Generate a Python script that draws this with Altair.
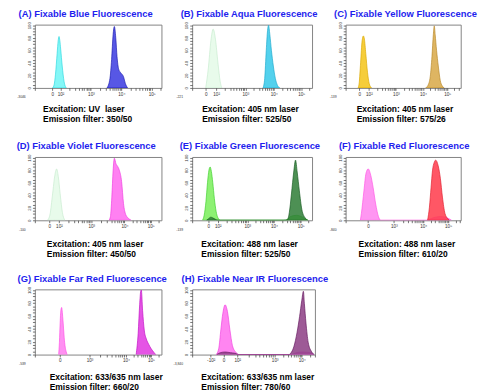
import math
import altair as alt
import pandas as pd

TITLES = ["(A) Fixable Blue Fluorescence", "(B) Fixable Aqua Fluorescence", "(C) Fixable Yellow Fluorescence",
          "(D) Fixable Violet Fluorescence", "(E) Fixable Green Fluorescence", "(F) Fixable Red Fluorescence",
          "(G) Fixable Far Red Fluorescence", "(H) Fixable Near IR Fluorescence"]
EXCITATION = ["Excitation: UV\u00a0 laser", "Excitation: 405 nm laser", "Excitation: 405 nm laser",
              "Excitation: 405 nm laser", "Excitation: 488 nm laser", "Excitation: 488 nm laser",
              "Excitation: 633/635 nm laser", "Excitation: 633/635 nm laser"]
EMISSION = ["Emission filter: 350/50", "Emission filter: 525/50", "Emission filter: 575/26",
            "Emission filter: 450/50", "Emission filter: 525/50", "Emission filter: 610/20",
            "Emission filter: 660/20", "Emission filter: 780/60"]
LOW_LABELS = ["-3046", "-221", "-139", "-100", "-139", "-840", "-539", "-3,840"]

STD_LABELS = ["0", "10\u00b2", "10\u00b3", "10\u2074", "10\u2075"]
F_LABELS = ["0", "10\u00b3", "10\u2074", "10\u2075"]
G_LABELS = ["0", "10\u00b3", "10\u2074", "10\u2075"]
H_LABELS = ["-10\u00b2", "0", "10\u00b2", "10\u00b3", "10\u2074"]

A_TICKS = [137, 203, 443, 683, 923]
B_TICKS = [113, 200, 444, 680, 910]
C_TICKS = [118, 202, 437, 672, 882]
D_TICKS = [115, 190, 446, 708, 915]
E_TICKS = [135, 214, 460, 683, 905]
F_TICKS = [194, 419, 675, 890]
G_TICKS = [197, 432, 720, 917]
H_TICKS = [151, 255, 367, 672, 893]

A_NEG_X = [140, 152, 163, 176, 184, 191, 197, 204, 216, 231, 248]
A_NEG_Y = [0, 5, 22, 55, 75, 82, 76, 62, 35, 10, 0]
A_POS_X = [570, 593, 606, 618, 628, 639, 649, 662, 679, 700, 715, 732]
A_POS_Y = [0, 15, 45, 85, 98, 80, 50, 30, 24, 18, 7, 0]

B_NEG_X = [113, 134, 156, 175, 194, 215, 234, 247]
B_NEG_Y = [0, 30, 75, 94, 78, 40, 10, 0]
B_POS_X = [591, 605, 618, 629, 637, 648, 661, 677, 694, 712, 731]
B_POS_Y = [0, 15, 60, 92, 100, 85, 60, 35, 15, 4, 0]

C_NEG_X = [108, 118, 130, 143, 154, 163, 175, 190, 205, 225]
C_NEG_Y = [0, 8, 40, 75, 83, 78, 55, 25, 7, 0]
C_POS_X = [695, 715, 735, 750, 762, 770, 778, 790, 805, 822, 840, 856]
C_POS_Y = [0, 4, 18, 50, 85, 99, 85, 60, 35, 12, 3, 0]

D_NEG_X = [100, 120, 140, 158, 172, 185, 200, 218, 238]
D_NEG_Y = [0, 10, 42, 72, 82, 70, 42, 12, 0]
D_POS_X = [585, 597, 608, 618, 628, 641, 654, 667, 685, 700, 718, 740, 760]
D_POS_Y = [0, 6, 37, 79, 99, 90, 86, 80, 62, 27, 9, 3, 0]

E_NEG_X = [85, 100, 115, 128, 140, 150, 160, 172, 185, 200, 215, 235, 780, 820, 870, 920, 965]
E_NEG_Y = [0, 8, 30, 60, 80, 85, 78, 60, 35, 14, 4, 0, 0, 6, 8, 5, 0]
E_POS_X = [120, 140, 155, 170, 190, 215, 760, 794, 810, 828, 847, 862, 876, 894, 915, 942, 965]
E_POS_Y = [0, 3, 5, 4, 2, 0, 0, 1, 12, 42, 77, 96, 77, 47, 17, 4, 0]

F_NEG_X = [128, 137, 159, 177, 196, 218, 239, 261, 285, 305, 700, 760, 820, 880, 920]
F_NEG_Y = [0, 11, 47, 75, 82, 72, 52, 26, 6, 0, 0, 4, 6, 4, 0]
F_POS_X = [712, 728, 742, 755, 769, 782, 804, 823, 841, 863, 890, 900]
F_POS_Y = [0, 21, 52, 80, 92, 96, 87, 67, 37, 11, 2, 0]

G_NEG_X = [188, 194, 200, 205, 212, 217, 222, 235, 248, 256]
G_NEG_Y = [0, 19, 50, 68, 73, 65, 53, 19, 4, 0]
G_POS_X = [800, 816, 828, 836, 841, 851, 864, 881, 899, 919, 942, 955]
G_POS_Y = [0, 33, 78, 98, 100, 68, 38, 24, 16, 9, 3, 0]

H_NEG_X = [195, 216, 234, 250, 268, 287, 307, 328, 354, 385, 800, 850, 900, 960, 990]
H_NEG_Y = [0, 9, 39, 64, 77, 67, 39, 14, 4, 0, 0, 3, 4, 3, 0]
H_POS_X = [200, 230, 270, 310, 350, 380, 790, 802, 828, 854, 875, 893, 906, 914, 927, 945, 971, 995]
H_POS_Y = [0, 3, 4, 3, 2, 0, 0, 2, 12, 34, 59, 84, 98, 79, 49, 19, 5, 0]

# (neg fill, neg stroke, pos fill, pos stroke)
COLORS = [
    ("#6ef6f6", "#2fd8e0", "#3a3ae0", "#1c1cb0"),
    ("#e4fae8", "#c8eccf", "#35c9ea", "#1fa9cc"),
    ("#f4c417", "#dba800", "#d8a846", "#b8892a"),
    ("#e4fae8", "#c8eccf", "#ff6af0", "#ee3ee0"),
    ("#79ee5a", "#3fcf2d", "#2e7d36", "#185c22"),
    ("#ff84f0", "#ff55e4", "#ff3a4a", "#e0202f"),
    ("#ff7cf0", "#ff50e6", "#e036e0", "#c010c4"),
    ("#ff70ee", "#f040e0", "#8c3d84", "#641a5e"),
]

# layout styling
WIDTHS = [132, 125, 120, 132, 125, 120, 132, 128]
HEIGHTS = [66, 66, 66, 66, 66, 66, 68, 68]
TITLE_DX = [-17, -12, -12, -19, -13, -7, -18, -11]
CAP_X = [8, 10, 11, 12, 9, 13, 15, 9]
CAP_Y = [18, 18, 18, 20, 20, 20, 19, 19]
FONT = "Liberation Sans"


def minor_ticks(ticks, labels):
    dec = [t for t, l in zip(ticks, labels) if l.startswith("10")]
    out = []
    for a, b in zip(dec[:-1], dec[1:]):
        out += [a + math.log10(k) * (b - a) for k in range(2, 10)]
    if len(dec) >= 2:
        step = dec[-1] - dec[-2]
        out += [dec[-1] + math.log10(k) * step for k in range(2, 10)
                if dec[-1] + math.log10(k) * step < 1000]
    return [round(v, 2) for v in out]


def panel(i, nx, ny, px, py, ticks, labels):
    nf, ns, pf, ps = COLORS[i]
    df = pd.DataFrame({"x": nx + px, "y": ny + py,
                       "s": ["neg"] * len(nx) + ["pos"] * len(px)})
    values = [0] + ticks + minor_ticks(ticks, labels)
    expr = "datum.value == 0 ? '%s' : " % LOW_LABELS[i]
    expr += " : ".join("datum.value == %s ? '%s'" % (t, l) for t, l in zip(ticks, labels))
    expr += " : ''"
    low = "datum.value == 0"
    xaxis = alt.Axis(
        values=values, labelExpr=expr, grid=False, domain=False,
        tickSize=2.5, tickColor="#333", tickWidth=0.7,
        labelFontSize={"condition": {"test": low, "value": 3.5}, "value": 4.8},
        labelAlign={"condition": {"test": low, "value": "right"}, "value": "center"},
        labelOffset={"condition": {"test": low, "value": -10}, "value": 0},
        labelPadding={"condition": {"test": low, "value": 5}, "value": 1},
        labelColor="#333", labelFont=FONT, labelOverlap=False, labelFlush=False,
        title=[EXCITATION[i], EMISSION[i]], titleFont=FONT, titleFontSize=8.8,
        titleFontWeight="bold", titleColor="#000", titleAlign="left",
        titleBaseline="top", titleX=CAP_X[i], titleY=CAP_Y[i], titleLineHeight=10.5,
    )
    yaxis = alt.Axis(
        values=list(range(0, 101, 5)), labelExpr="datum.value % 20 == 0 ? datum.label : ''",
        grid=False, domain=False, tickSize=2.5, tickColor="#333", tickWidth=0.7,
        labelAngle=270, labelFontSize=4.5, labelPadding=1, labelColor="#333",
        labelFont=FONT, labelOverlap=False, title=None,
    )
    base = alt.Chart(df).encode(
        x=alt.X("x:Q", scale=alt.Scale(domain=[0, 1000], nice=False, zero=False), axis=xaxis),
        y=alt.Y("y:Q", scale=alt.Scale(domain=[0, 101], nice=False), axis=yaxis),
    )
    neg = base.transform_filter("datum.s == 'neg'").mark_area(
        interpolate="monotone", fill=nf, fillOpacity=0.85, stroke=ns, strokeWidth=0.7, clip=True)
    pos = base.transform_filter("datum.s == 'pos'").mark_area(
        interpolate="monotone", fill=pf, fillOpacity=0.85, stroke=ps, strokeWidth=0.7, clip=True)
    return alt.layer(neg, pos).properties(
        width=WIDTHS[i], height=HEIGHTS[i],
        title=alt.TitleParams(TITLES[i], anchor="start", frame="group", dx=TITLE_DX[i], offset=3,
                              fontSize=9.8, fontWeight="bold", color="#1f1fee", font=FONT),
    )


panels = [
    panel(0, A_NEG_X, A_NEG_Y, A_POS_X, A_POS_Y, A_TICKS, STD_LABELS),
    panel(1, B_NEG_X, B_NEG_Y, B_POS_X, B_POS_Y, B_TICKS, STD_LABELS),
    panel(2, C_NEG_X, C_NEG_Y, C_POS_X, C_POS_Y, C_TICKS, STD_LABELS),
    panel(3, D_NEG_X, D_NEG_Y, D_POS_X, D_POS_Y, D_TICKS, STD_LABELS),
    panel(4, E_NEG_X, E_NEG_Y, E_POS_X, E_POS_Y, E_TICKS, STD_LABELS),
    panel(5, F_NEG_X, F_NEG_Y, F_POS_X, F_POS_Y, F_TICKS, F_LABELS),
    panel(6, G_NEG_X, G_NEG_Y, G_POS_X, G_POS_Y, G_TICKS, G_LABELS),
    panel(7, H_NEG_X, H_NEG_Y, H_POS_X, H_POS_Y, H_TICKS, H_LABELS),
]

chart = alt.concat(*panels, columns=3).properties(
    spacing={"row": 72, "column": 32},
    bounds="flush",
    align="each",
    padding={"left": 8, "top": -8, "right": 0, "bottom": 0},
    background="white",
).configure_view(stroke="#808080", strokeWidth=1)

chart.save("out.html", embed_options={"renderer": "svg", "actions": False})
